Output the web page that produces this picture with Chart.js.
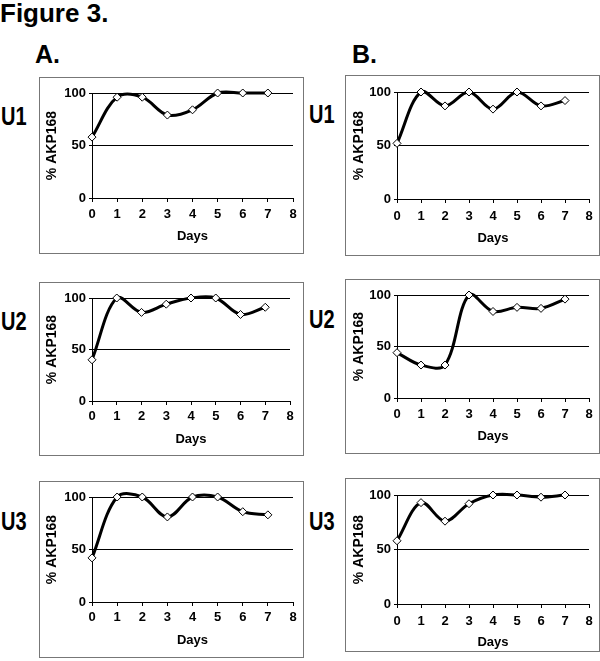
<!DOCTYPE html>
<html lang="en">
<head>
<meta charset="UTF-8">
<title>Figure 3</title>
<script src="https://cdn.jsdelivr.net/npm/chart.js"></script>
<style>
  body { margin: 0; width: 600px; height: 661px; position: relative; background: #fff; overflow: hidden;
         font-family: "Liberation Sans", Arial, sans-serif; font-weight: bold; color: #000; }
  .lbl { position: absolute; line-height: 1; white-space: nowrap; }
  .row { font-size: 25px; transform: scaleX(0.8); transform-origin: left top; }
  .box { position: absolute; border: 1px solid #777; }
  .box canvas { display: block; }
</style>
</head>
<body>
<div class="lbl" style="left:0;top:0;font-size:26px">Figure 3.</div>
<div class="lbl" style="left:35px;top:42px;font-size:25px">A.</div>
<div class="lbl" style="left:352px;top:42px;font-size:25px">B.</div>
<div class="lbl row" style="left:1px;top:104px">U1</div>
<div class="lbl row" style="left:309px;top:102px">U1</div>
<div class="lbl row" style="left:1px;top:309px">U2</div>
<div class="lbl row" style="left:309px;top:307px">U2</div>
<div class="lbl row" style="left:1px;top:509px">U3</div>
<div class="lbl row" style="left:309px;top:509px">U3</div>

<script>
    // x tick labels (days)
    const days = ['0', '1', '2', '3', '4', '5', '6', '7', '8'];

    // % AKP168 per day
    const aU1 = [58, 96, 96, 79, 84, 100, 100, 100];
    const aU2 = [40, 100, 86, 94, 100, 100, 84, 91];
    const aU3 = [42, 100, 100, 81, 100, 100, 86, 83];
    const bU1 = [52, 100, 87, 100, 84, 100, 87, 92];
    const bU2 = [44, 32, 32, 100, 84, 88, 87, 96];
    const bU3 = [58, 93, 76, 92, 100, 100, 98, 100];

    // box = [left, top, right, bottom], plot = [x0, x8, y100, y0], text = [yTitleX, tickY, daysY]
    const paneles = [
        { datos: aU1, box: [39, 77, 303, 253], plot: [92, 293, 93, 198], text: [52, 215, 236] },
        { datos: aU2, box: [39, 282, 303, 455], plot: [92, 290, 298, 401], text: [52, 417, 439] },
        { datos: aU3, box: [39, 481, 303, 657], plot: [92, 293, 497, 602], text: [52, 618, 640] },
        { datos: bU1, box: [345, 75, 599, 255], plot: [397, 589, 92, 199], text: [359, 217, 238] },
        { datos: bU2, box: [345, 279, 599, 453], plot: [397, 589, 295, 398], text: [359, 415, 436] },
        { datos: bU3, box: [345, 478, 599, 651], plot: [397, 589, 495, 604], text: [359, 622, 642] }
    ];

    const familia = '"Liberation Sans", Arial, sans-serif';
    const fuente = { family: familia, size: 13, weight: 'bold' };

    paneles.forEach(p => {
        const [l, t, r, b] = p.box;
        const [x0, x8, y100, y0] = p.plot;
        const [tituloX, tickY, diasY] = p.text;
        const w = r - l - 1, h = b - t - 1;

        const caja = document.createElement('div');
        caja.className = 'box';
        caja.style.left = l + 'px';
        caja.style.top = t + 'px';
        const canvas = document.createElement('canvas');
        canvas.width = w;
        canvas.height = h;
        caja.appendChild(canvas);
        document.body.appendChild(caja);

        const anchoY = x0 - (l + 1);
        const altoX = b - y0;

        new Chart(canvas.getContext('2d'), {
            type: 'line',
            data: {
                labels: days,
                datasets: [{
                    data: p.datos,
                    borderColor: '#000',
                    borderWidth: 3,
                    tension: 0.35,
                    pointStyle: 'rectRot',
                    pointRadius: 4,
                    pointBackgroundColor: '#fff',
                    pointBorderColor: '#000',
                    pointBorderWidth: 1,
                    clip: false
                }]
            },
            options: {
                responsive: false,
                animation: false,
                layout: { padding: { top: y100 - (t + 1), right: r - x8, left: 0, bottom: 0 } },
                plugins: { legend: { display: false }, tooltip: { enabled: false } },
                elements: { line: { capBezierPoints: false } },
                scales: {
                    x: {
                        type: 'category',
                        offset: false,
                        grid: { drawOnChartArea: false, color: '#000', tickLength: 4 },
                        border: { color: '#000' },
                        ticks: { color: '#000', font: fuente, padding: tickY - y0 - 4 - 8, maxRotation: 0, autoSkip: false },
                        title: { display: true, text: 'Days', color: '#000', font: fuente,
                                 padding: { top: 0, bottom: b - diasY - 8 } },
                        afterFit: s => { s.height = altoX; }
                    },
                    y: {
                        min: 0,
                        max: 100,
                        grid: { color: '#000', tickLength: 3 },
                        border: { color: '#000' },
                        ticks: { stepSize: 50, color: '#000', font: fuente, padding: 3 },
                        title: { display: true, text: '% AKP168', color: '#000',
                                 font: { family: familia, size: 14, weight: 'bold' },
                                 padding: { top: tituloX - (l + 1) - 8, bottom: 0 } },
                        afterFit: s => { s.width = anchoY; }
                    }
                }
            }
        });
    });
</script>
</body>
</html>
